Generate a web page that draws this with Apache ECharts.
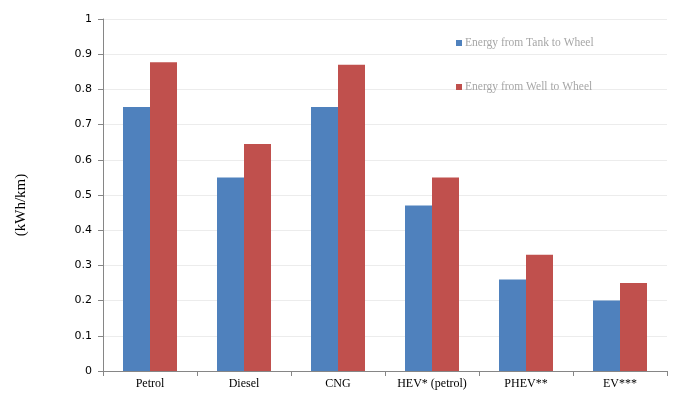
<!DOCTYPE html>
<html><head><meta charset="utf-8">
<script src="https://cdn.jsdelivr.net/npm/echarts@6/dist/echarts.min.js"></script>
<style>html,body{margin:0;padding:0;background:#fff}#c{width:674px;height:394px}</style>
</head><body><div id="c"></div>
<script>
const categories = ['Petrol', 'Diesel', 'CNG', 'HEV* (petrol)', 'PHEV**', 'EV***'];
const tankToWheel = [0.75, 0.55, 0.75, 0.47, 0.26, 0.20];
const wellToWheel = [0.877, 0.645, 0.87, 0.55, 0.33, 0.25];
const seriesNames = ['Energy from Tank to Wheel', 'Energy from Well to Wheel'];
const yTicks = [0, 0.1, 0.2, 0.3, 0.4, 0.5, 0.6, 0.7, 0.8, 0.9, 1];

const chart = echarts.init(document.getElementById('c'));
chart.setOption({
  animation: false,
  grid: { left: 103, right: 7, top: 19, bottom: 23, containLabel: false },
  legend: {
    orient: 'vertical', left: 451, top: 32, itemGap: 32,
    itemWidth: 6, itemHeight: 6, icon: 'rect',
    textStyle: { fontFamily: 'Liberation Serif', fontSize: 11.5, color: '#a6a6a6', padding: [0, 0, 0, -2] },
    data: seriesNames
  },
  xAxis: {
    type: 'category', data: categories,
    axisLine: { lineStyle: { color: '#868686' } },
    axisTick: { show: true, alignWithLabel: false, length: 5, lineStyle: { color: '#868686' } },
    axisLabel: { fontFamily: 'Liberation Serif', fontSize: 12, color: '#000', margin: 7 }
  },
  yAxis: {
    type: 'value', min: 0, max: 1, interval: 0.1,
    name: '(kWh/km)', nameLocation: 'middle', nameGap: 74, nameRotate: 90,
    nameTextStyle: { fontFamily: 'Liberation Serif', fontSize: 15, color: '#000', padding: [0, 20, 0, 0] },
    axisLine: { show: true, lineStyle: { color: '#868686' } },
    axisTick: { show: true, length: 5, lineStyle: { color: '#868686' } },
    axisLabel: { fontFamily: 'DejaVu Sans', fontSize: 11, color: '#000', margin: 11,
      formatter: v => { const t = yTicks.find(x => Math.abs(x - v) < 1e-9); return String(t !== undefined ? t : v); } },
    splitLine: { lineStyle: { color: '#ececec' } }
  },
  series: [
    { name: seriesNames[0], type: 'bar', data: tankToWheel, barWidth: 27, barGap: '0%',
      itemStyle: { color: '#4F81BD' } },
    { name: seriesNames[1], type: 'bar', data: wellToWheel, barWidth: 27,
      itemStyle: { color: '#C0504D' } }
  ]
});
</script></body></html>
